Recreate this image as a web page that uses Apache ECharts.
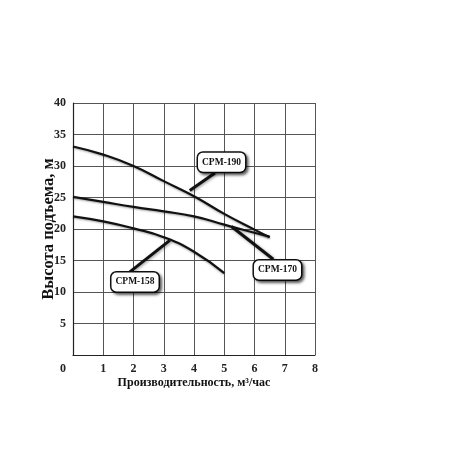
<!DOCTYPE html>
<html>
<head>
<meta charset="utf-8">
<script src="https://cdn.jsdelivr.net/npm/echarts@6/dist/echarts.min.js"></script>
<style>
  html, body { margin: 0; padding: 0; background: #fff; }
  #chart { width: 450px; height: 461px; }
</style>
</head>
<body>
<div id="chart"></div>
<script>
// подача, м3/час
const flow190 = [0, 1, 2, 3, 4, 5, 6, 6.5]
const head190 = [33.1, 31.8, 30.0, 27.6, 25.2, 22.4, 19.9, 18.7]
const flow170 = [0, 1, 2, 3, 4, 5, 6, 6.5]
const head170 = [25.1, 24.3, 23.5, 22.8, 22.0, 20.7, 19.4, 18.8]
const flow158 = [0, 1, 2, 3, 4, 5]
const head158 = [22.0, 21.2, 20.1, 18.7, 16.4, 13.0]

// подписи-выноски: [центр подписи], [начало указателя], [конец указателя]
const callout190 = { name: 'CPM-190', box: [4.91, 30.6], from: [4.69, 28.9], to: [3.86, 26.1] }
const callout170 = { name: 'CPM-170', box: [6.76, 13.5], from: [6.62, 15.2], to: [5.24, 20.4] }
const callout158 = { name: 'CPM-158', box: [2.05, 11.6], from: [1.88, 13.2], to: [3.2, 18.2] }

const font = 'Liberation Serif'

const pairs = (xs, ys) => xs.map((x, i) => [x, ys[i]])

function makeSeries(name, xs, ys, c) {
  return {
    name: name,
    type: 'line',
    smooth: true,
    symbol: 'none',
    data: pairs(xs, ys),
    lineStyle: {
      color: '#111',
      width: 2.2,
      shadowColor: 'rgba(0,0,0,0.35)',
      shadowBlur: 2,
      shadowOffsetY: 1
    },
    markLine: {
      silent: true,
      symbol: 'none',
      label: { show: false },
      lineStyle: {
        color: '#111',
        type: 'solid',
        width: 3,
        shadowColor: 'rgba(0,0,0,0.4)',
        shadowBlur: 3,
        shadowOffsetX: 1,
        shadowOffsetY: 1
      },
      data: [[{ coord: c.from }, { coord: c.to }]]
    },
    markPoint: {
      silent: true,
      symbol: 'rect',
      symbolSize: 1,
      itemStyle: { color: 'rgba(0,0,0,0)' },
      label: {
        show: true,
        position: 'inside',
        formatter: c.name,
        fontFamily: font,
        fontWeight: 'bold',
        fontSize: 9.5,
        color: '#111',
        backgroundColor: '#fff',
        borderColor: '#111',
        borderWidth: 1.5,
        borderRadius: 5,
        padding: [5, 4, 4, 4],
        shadowColor: 'rgba(0,0,0,0.55)',
        shadowBlur: 3,
        shadowOffsetX: 2,
        shadowOffsetY: 2
      },
      data: [{ coord: c.box }]
    }
  }
}

let myChart = echarts.init(document.getElementById('chart'))
myChart.setOption({
  animation: false,
  backgroundColor: '#fff',
  grid: { left: 73, right: 135, top: 103, bottom: 106 },
  xAxis: {
    type: 'value',
    min: 0,
    max: 8,
    interval: 1,
    name: 'Производительность, м³/час',
    nameLocation: 'middle',
    nameGap: 22,
    nameMoveOverlap: false,
    nameTextStyle: { fontFamily: font, fontWeight: 'bold', fontSize: 12, color: '#111' },
    axisLine: { lineStyle: { color: '#222', width: 1.2 } },
    axisTick: { show: false },
    axisLabel: {
      margin: 8,
      fontFamily: font,
      fontWeight: 'bold',
      fontSize: 12,
      color: '#222',
      formatter: v => (v === 0 ? '{o|0}' : String(v)),
      rich: { o: { padding: [0, 20, 0, 0], fontFamily: font, fontWeight: 'bold', fontSize: 12, color: '#222' } }
    },
    splitLine: { show: true, lineStyle: { color: '#555', width: 1 } }
  },
  yAxis: {
    type: 'value',
    min: 0,
    max: 40,
    interval: 5,
    name: 'Высота подъема, м',
    nameLocation: 'middle',
    nameGap: 16,
    nameMoveOverlap: false,
    nameRotate: 90,
    nameTextStyle: { fontFamily: font, fontWeight: 'bold', fontSize: 16.5, color: '#111' },
    axisLine: { show: true, lineStyle: { color: '#222', width: 1.2 } },
    axisTick: { show: false },
    axisLabel: {
      margin: 7,
      fontFamily: font,
      fontWeight: 'bold',
      fontSize: 12,
      color: '#222',
      formatter: v => (v === 0 ? '' : String(v))
    },
    splitLine: { show: true, lineStyle: { color: '#555', width: 1 } }
  },
  series: [
    makeSeries('CPM-190', flow190, head190, callout190),
    makeSeries('CPM-170', flow170, head170, callout170),
    makeSeries('CPM-158', flow158, head158, callout158)
  ]
})
</script>
</body>
</html>
